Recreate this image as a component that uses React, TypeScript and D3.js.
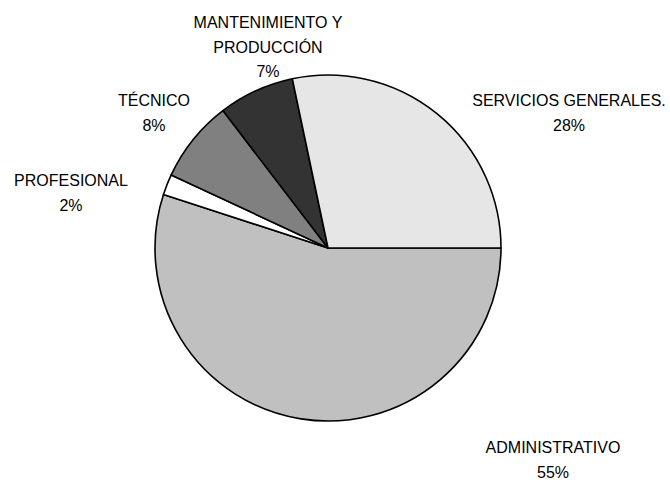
import React from "react";
import * as d3 from "d3";

const categories = ["ADMINISTRATIVO", "PROFESIONAL", "TÉCNICO", "MANTENIMIENTO Y PRODUCCIÓN", "SERVICIOS GENERALES."];
const values = [55.0, 1.94, 7.67, 7.08, 28.31];
const percentLabels = ["55%", "2%", "8%", "7%", "28%"];
const labelLines = [["ADMINISTRATIVO"], ["PROFESIONAL"], ["TÉCNICO"], ["MANTENIMIENTO Y", "PRODUCCIÓN"], ["SERVICIOS GENERALES."]];
const colors = ["#c0c0c0", "#ffffff", "#808080", "#333333", "#e6e6e6"];
// label anchor (center x, first baseline y)
const labelPos: [number, number][] = [[553, 453], [71, 186], [154, 106], [268, 28], [569, 106]];

export default function App() {
  const W = 670, H = 484;
  const cx = 328, cy = 248, r = 173;
  const pie = d3.pie<number>().sort(null).startAngle(Math.PI / 2).endAngle(Math.PI / 2 + 2 * Math.PI);
  const arcs = pie(values);
  const arc = d3.arc<d3.PieArcDatum<number>>().innerRadius(0).outerRadius(r);
  const lh = 24.5;
  return (
    <svg width={W} height={H} style={{ position: "absolute", left: 0, top: 0, background: "#fff" }}
      fontFamily="'Liberation Sans', Arial, sans-serif" fontSize={16}>
      <g transform={`translate(${cx},${cy})`}>
        {arcs.map((a, i) => (
          <path key={categories[i]} d={arc(a) || ""} fill={colors[i]} stroke="#000" strokeWidth={1.6} strokeLinejoin="round" />
        ))}
      </g>
      {labelLines.map((lines, i) => {
        const [x, y] = labelPos[i];
        return (
          <text key={categories[i]} textAnchor="middle" fill="#000">
            {lines.map((l, j) => (
              <tspan key={j} x={x} y={y + j * lh}>{l}</tspan>
            ))}
            <tspan x={x} y={y + lines.length * lh}>{percentLabels[i]}</tspan>
          </text>
        );
      })}
    </svg>
  );
}
